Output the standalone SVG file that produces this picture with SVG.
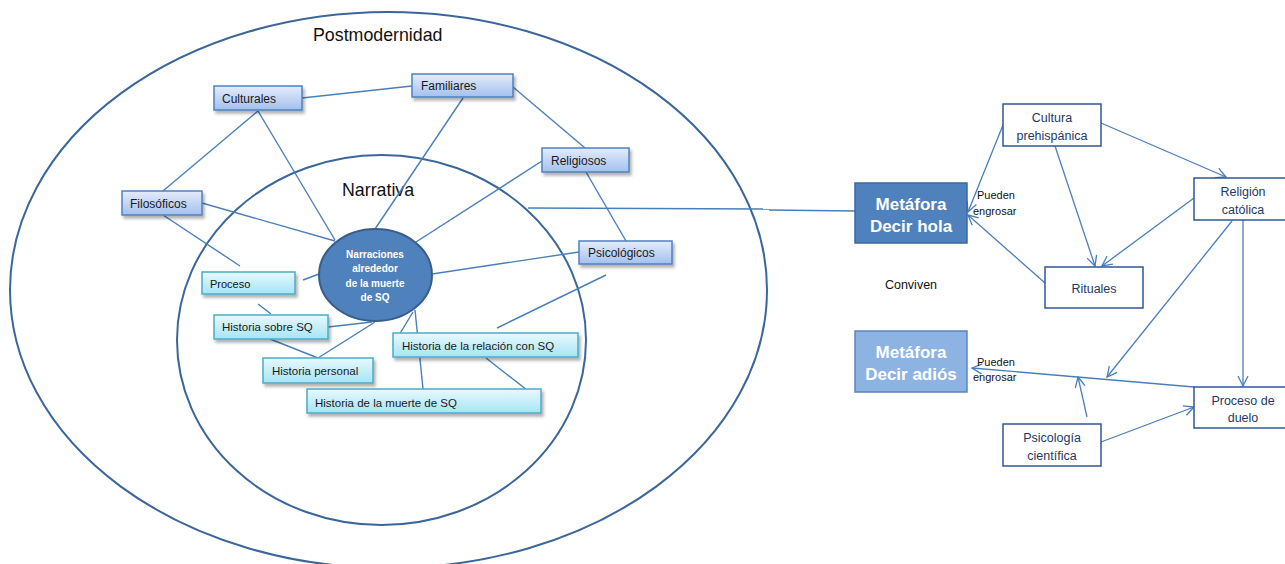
<svg xmlns="http://www.w3.org/2000/svg" width="1285" height="564" viewBox="0 0 1285 564">
<defs>
<linearGradient id="gBlue" x1="0" y1="0" x2="0" y2="1">
<stop offset="0" stop-color="#e4ecfb"/><stop offset="1" stop-color="#a3c0ee"/>
</linearGradient>
<linearGradient id="gCyan" x1="0" y1="0" x2="0" y2="1">
<stop offset="0" stop-color="#e8f9fe"/><stop offset="1" stop-color="#a6e4f6"/>
</linearGradient>
<filter id="sh" x="-10%" y="-20%" width="130%" height="160%">
<feDropShadow dx="2" dy="3" stdDeviation="1.5" flood-color="#000" flood-opacity="0.3"/>
</filter>
<marker id="arr" viewBox="0 0 12 12" refX="11" refY="6" markerWidth="12" markerHeight="12" markerUnits="userSpaceOnUse" orient="auto">
<path d="M1,1 L11,6 L1,11" fill="none" stroke="#4a7ebb" stroke-width="1.3"/>
</marker>
<style>
.ell{fill:none;stroke:#3b6699;stroke-width:2}
.ln{stroke:#4a7ebb;stroke-width:1.4;fill:none}
.al{stroke:#4a7ebb;stroke-width:1.3;fill:none;marker-end:url(#arr)}
.bb{fill:url(#gBlue);stroke:#4f81bd;stroke-width:1.5;filter:url(#sh)}
.cb{fill:url(#gCyan);stroke:#4bacc6;stroke-width:1.5;filter:url(#sh)}
.t{font-family:"Liberation Sans",Arial,sans-serif;font-size:12px;fill:#1a1a1a}
.tc{font-family:"Liberation Sans",Arial,sans-serif;font-size:11.5px;fill:#1a1a1a}
.big{font-family:"Liberation Sans",Arial,sans-serif;font-size:17.8px;fill:#111}
.wb{font-family:"Liberation Sans",Arial,sans-serif;font-size:17px;font-weight:bold;fill:#fff;text-anchor:middle}
.rb{fill:#fff;stroke:#2f5597;stroke-width:1.5}
.rt{font-family:"Liberation Sans",Arial,sans-serif;font-size:12.5px;fill:#1f3864;text-anchor:middle}
.sm{font-family:"Liberation Sans",Arial,sans-serif;font-size:11px;fill:#111}
</style>
</defs>
<rect width="1285" height="564" fill="#fff"/>

<g id="postmodernidad">
<ellipse class="ell" cx="388.5" cy="290" rx="378.5" ry="278"/>
<text class="big" x="313" y="41">Postmodernidad</text>
</g>
<g id="narrativa">
<ellipse class="ell" cx="381.5" cy="340" rx="204.5" ry="185"/>
<text class="big" x="342" y="196">Narrativa</text>
</g>

<g id="connectors">
<line class="ln" x1="302" y1="98" x2="412" y2="86"/>
<line class="ln" x1="258" y1="111" x2="163" y2="191"/>
<line class="ln" x1="258" y1="111" x2="335" y2="240"/>
<line class="ln" x1="463" y1="98" x2="375" y2="229"/>
<line class="ln" x1="202" y1="203" x2="335" y2="241"/>
<line class="ln" x1="163" y1="215" x2="240" y2="266"/>
<line class="ln" x1="513" y1="87" x2="585" y2="148"/>
<line class="ln" x1="542" y1="161" x2="416" y2="242"/>
<line class="ln" x1="586" y1="172" x2="626" y2="241"/>
<line class="ln" x1="579" y1="252" x2="432" y2="274"/>
<line class="ln" x1="606" y1="275" x2="497" y2="328"/>
<line class="ln" x1="303" y1="280" x2="319" y2="274"/>
<line class="ln" x1="258" y1="304" x2="271" y2="314"/>
<line class="ln" x1="328" y1="327" x2="372" y2="322"/>
<line class="ln" x1="270" y1="339" x2="318" y2="358"/>
<line class="ln" x1="318" y1="358" x2="375" y2="322"/>
<line class="ln" x1="413" y1="312" x2="393" y2="345"/>
<line class="ln" x1="415" y1="310" x2="423" y2="389"/>
<line class="ln" x1="486" y1="358" x2="541" y2="401"/>
<line class="ln" x1="307" y1="400" x2="328" y2="392"/>
<line class="ln" x1="528" y1="208" x2="769" y2="209" stroke-width="2"/>
<line class="ln" x1="769" y1="210" x2="855" y2="211"/>
<line class="al" x1="1003" y1="125" x2="968" y2="212"/>
<line class="al" x1="1045" y1="283" x2="968" y2="215"/>
<line class="al" x1="1055" y1="146" x2="1095" y2="266"/>
<line class="al" x1="1101" y1="123" x2="1226" y2="177"/>
<line class="al" x1="1194" y1="198" x2="1102" y2="266"/>
<line class="al" x1="1232" y1="221" x2="1107" y2="377"/>
<line class="al" x1="1243" y1="220" x2="1243" y2="386"/>
<line class="al" x1="1194" y1="387" x2="972" y2="368"/>
<line class="al" x1="1087" y1="417" x2="1078" y2="377"/>
<line class="al" x1="1101" y1="442" x2="1194" y2="407"/>
</g>

<g id="culturales"><rect class="bb" x="214" y="86" width="88" height="24"/><text class="t" x="222" y="103">Culturales</text></g>
<g id="familiares"><rect class="bb" x="412" y="74" width="101" height="23"/><text class="t" x="421" y="90">Familiares</text></g>
<g id="filosoficos"><rect class="bb" x="122" y="191" width="80" height="24"/><text class="t" x="130" y="208">Filosóficos</text></g>
<g id="religiosos"><rect class="bb" x="542" y="148" width="87" height="24"/><text class="t" x="551" y="165">Religiosos</text></g>
<g id="psicologicos"><rect class="bb" x="579" y="241" width="93" height="23"/><text class="t" x="588" y="257">Psicológicos</text></g>

<g id="proceso"><rect class="cb" x="202" y="272" width="93" height="22"/><text class="sm" x="210" y="288">Proceso</text></g>
<g id="historia-sobre"><rect class="cb" x="214" y="315" width="114" height="24"/><text class="tc" x="222" y="331">Historia sobre SQ</text></g>
<g id="historia-personal"><rect class="cb" x="263" y="358" width="110" height="25"/><text class="tc" x="272" y="375">Historia personal</text></g>
<g id="historia-relacion"><rect class="cb" x="393" y="333" width="185" height="24"/><text class="tc" x="402" y="350">Historia de la relación con SQ</text></g>
<g id="historia-muerte"><rect class="cb" x="307" y="389" width="234" height="24"/><text class="tc" x="315" y="407">Historia de la muerte de SQ</text></g>

<g id="narraciones">
<ellipse cx="375.5" cy="275" rx="56.5" ry="46" fill="#4f81bd" stroke="#385d8a" stroke-width="2"/>
<text font-family="Liberation Sans, Arial, sans-serif" font-size="10" font-weight="bold" fill="#fff" text-anchor="middle">
<tspan x="375" y="258">Narraciones</tspan><tspan x="375" y="272">alrededor</tspan><tspan x="375" y="287">de la muerte</tspan><tspan x="375" y="301">de SQ</tspan></text>
</g>

<g id="metafora-hola"><rect x="855" y="183" width="112" height="60" fill="#4f81bd" stroke="#3a6aa0" stroke-width="1.5"/><text class="wb" x="911" y="210">Metáfora</text><text class="wb" x="911" y="232">Decir hola</text></g>
<g id="metafora-adios"><rect x="855" y="331" width="112" height="61" fill="#8db3e2" stroke="#5b86bd" stroke-width="1.5"/><text class="wb" x="911" y="358">Metáfora</text><text class="wb" x="911" y="380">Decir adiós</text></g>
<g id="cultura-prehispanica"><rect class="rb" x="1003" y="104" width="98" height="42"/><text class="rt" x="1052" y="122">Cultura</text><text class="rt" x="1052" y="140">prehispánica</text></g>
<g id="religion-catolica"><rect class="rb" x="1194" y="178" width="93" height="42"/><text class="rt" x="1243" y="196">Religión</text><text class="rt" x="1243" y="214">católica</text></g>
<g id="rituales"><rect class="rb" x="1045" y="267" width="98" height="41"/><text class="rt" x="1094" y="293">Rituales</text></g>
<g id="psicologia-cientifica"><rect class="rb" x="1003" y="424" width="98" height="42"/><text class="rt" x="1052" y="442">Psicología</text><text class="rt" x="1052" y="460">científica</text></g>
<g id="proceso-duelo"><rect class="rb" x="1194" y="387" width="93" height="41"/><text class="rt" x="1243" y="405">Proceso de</text><text class="rt" x="1243" y="422">duelo</text></g>

<g id="labels">
<text class="sm" x="977" y="199">Pueden</text><text class="sm" x="973" y="215">engrosar</text>
<text class="sm" x="977" y="366">Pueden</text><text class="sm" x="973" y="381">engrosar</text>
<text class="rt" x="911" y="289" style="fill:#111">Conviven</text>
</g>
</svg>
